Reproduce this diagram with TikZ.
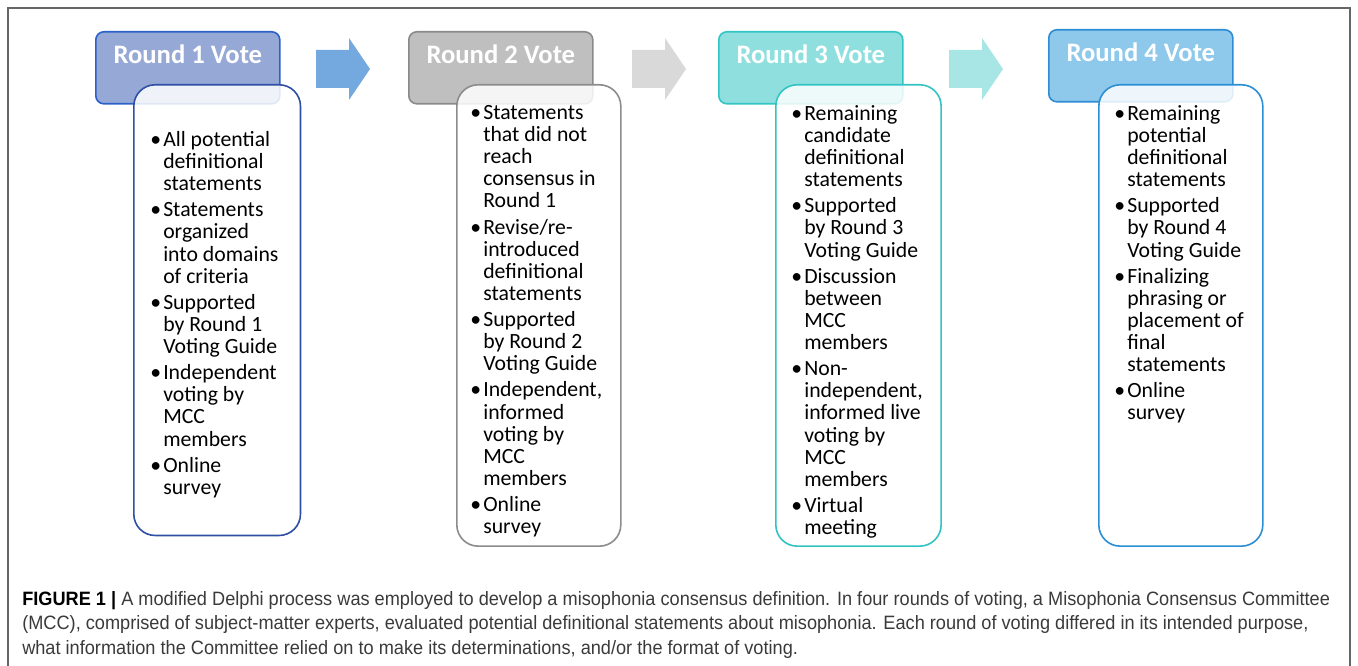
\documentclass[tikz,border=0pt]{standalone}
\usepackage{fontspec}
\setmainfont{Carlito}
\newfontfamily\capfont[FakeStretch=0.94]{Liberation Sans}
\definecolor{fillA}{HTML}{96A8D6}\definecolor{lineA}{HTML}{2C62C7}\definecolor{boxA}{HTML}{2F4FA5}
\definecolor{fillB}{HTML}{BFBFBF}\definecolor{lineB}{HTML}{8A8A8A}\definecolor{boxB}{HTML}{8C8C8C}
\definecolor{fillC}{HTML}{8FDFDF}\definecolor{lineC}{HTML}{33C4C4}\definecolor{boxC}{HTML}{33C3C3}
\definecolor{fillD}{HTML}{8EC8EB}\definecolor{lineD}{HTML}{2D8CD4}\definecolor{boxD}{HTML}{2B8FD6}
\definecolor{pilA}{HTML}{74A9E0}\definecolor{pilB}{HTML}{D9D9D9}\definecolor{pilC}{HTML}{A8E6E6}
\definecolor{capgray}{HTML}{3A3A3A}
\newcommand\pkt{\llap{\textbullet\hspace{1.5pt}}}
\begin{document}
\begin{tikzpicture}[
      x=0.75pt, y=-0.75pt,
      titel/.style={rectangle, rounded corners=6pt, line width=1.2pt,
        anchor=north west, minimum width=138pt, minimum height=54pt,
        text height=15pt, text depth=21pt, text=white,
        font=\fontsize{20}{24}\selectfont\bfseries},
      boks/.style={rectangle, rounded corners=16pt, line width=1.2pt,
        fill=white, fill opacity=0.85, anchor=north west},
      liste/.style={anchor=north west, align=left, inner sep=0pt,
        font=\fontsize{16.3}{16.6}\selectfont},
      pil/.style={draw=none}
    ]
    \useasboundingbox (0,0) rectangle (1358,666);
    % ramme
    \draw[gray!80!black, line width=1.3pt] (8,666) -- (8,8) -- (1350,8) -- (1350,666);
    % overskrifter
    \path (95,31) node(h1) [titel, fill=fillA, draw=lineA] {Round 1 Vote}
    (408,31) node(h2) [titel, fill=fillB, draw=lineB] {Round 2 Vote}
    (718,31) node(h3) [titel, fill=fillC, draw=lineC] {Round 3 Vote}
    (1048,29) node(h4) [titel, fill=fillD, draw=lineD] {Round 4 Vote};
    % pile
    \fill[pil, pilA] (316,50) -- (349,50) -- (349,38) -- (370,69) -- (349,100) -- (349,88) -- (316,88) -- cycle;
    \fill[pil, pilB] (632,50) -- (665,50) -- (665,38) -- (686,69) -- (665,100) -- (665,88) -- (632,88) -- cycle;
    \fill[pil, pilC] (949,50) -- (982,50) -- (982,38) -- (1003,69) -- (982,100) -- (982,88) -- (949,88) -- cycle;
    % kasser
    \path (133,84) node(b1) [boks, draw=boxA, minimum width=125pt, minimum height=338pt] {}
    (456,84) node(b2) [boks, draw=boxB, minimum width=123pt, minimum height=346pt] {}
    (775,84) node(b3) [boks, draw=boxC, minimum width=124pt, minimum height=346pt] {}
    (1098,84) node(b4) [boks, draw=boxD, minimum width=123pt, minimum height=346pt] {};
    % tekst
    \path (b1.north west) ++(30,47) node(t1) [liste] {\pkt All potential\\definitional\\statements\\[3pt]
      \pkt Statements\\organized\\into domains\\of criteria\\[3pt]
      \pkt Supported\\by Round 1\\Voting Guide\\[3pt]
      \pkt Independent\\voting by\\MCC\\members\\[3pt]
      \pkt Online\\survey};
    \path (b2.north west) ++(27,21) node(t2) [liste] {\pkt Statements\\that did not\\reach\\consensus in\\Round 1\\[3pt]
      \pkt Revise/re-\\introduced\\definitional\\statements\\[3pt]
      \pkt Supported\\by Round 2\\Voting Guide\\[3pt]
      \pkt Independent,\\informed\\voting by\\MCC\\members\\[3pt]
      \pkt Online\\survey};
    \path (b3.north west) ++(29,21) node(t3) [liste] {\pkt Remaining\\candidate\\definitional\\statements\\[3pt]
      \pkt Supported\\by Round 3\\Voting Guide\\[3pt]
      \pkt Discussion\\between\\MCC\\members\\[3pt]
      \pkt Non-\\independent,\\informed live\\voting by\\MCC\\members\\[3pt]
      \pkt Virtual\\meeting};
    \path (b4.north west) ++(29,21) node(t4) [liste] {\pkt Remaining\\potential\\definitional\\statements\\[3pt]
      \pkt Supported\\by Round 4\\Voting Guide\\[3pt]
      \pkt Finalizing\\phrasing or\\placement of\\final\\statements\\[3pt]
      \pkt Online\\survey};
    % billedtekst
    \path (22,591) node(cap) [anchor=north west, align=left, inner sep=0pt, text=capgray,
      font=\capfont\fontsize{14.5}{18.4}\selectfont]
      {{\color{black}\bfseries FIGURE 1 |} A modified Delphi process was employed to develop a misophonia consensus definition. In four rounds of voting, a Misophonia Consensus Committee\\
      (MCC), comprised of subject-matter experts, evaluated potential definitional statements about misophonia. Each round of voting differed in its intended purpose,\\
      what information the Committee relied on to make its determinations, and/or the format of voting.};
  \end{tikzpicture}
\end{document}
